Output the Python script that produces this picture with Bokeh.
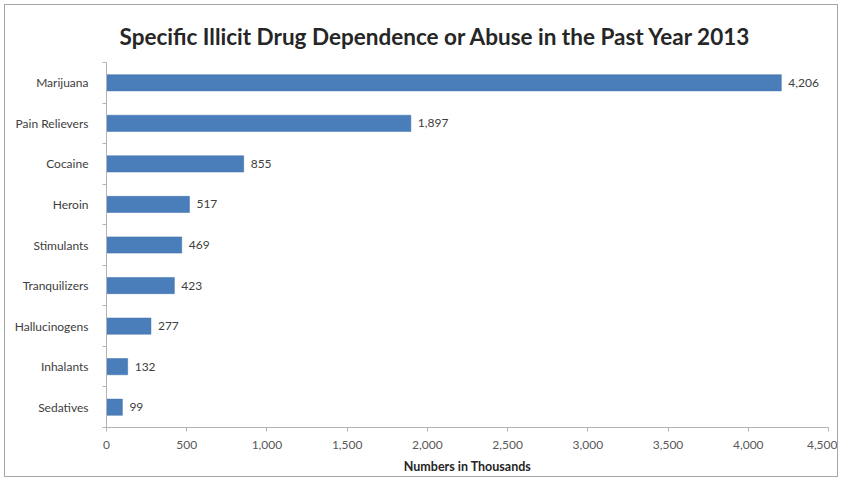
from bokeh.plotting import figure
from bokeh.models import Range1d, FixedTicker, ColumnDataSource, LabelSet, Title, NumeralTickFormatter
from bokeh.core.properties import value
from bokeh.embed import file_html
from bokeh.resources import INLINE

title_text = "Specific Illicit Drug Dependence or Abuse in the Past Year 2013"
categories = ["Marijuana", "Pain Relievers", "Cocaine", "Heroin", "Stimulants",
              "Tranquilizers", "Hallucinogens", "Inhalants", "Sedatives"]
values = [4206, 1897, 855, 517, 469, 423, 277, 132, 99]
x_ticks = [0, 500, 1000, 1500, 2000, 2500, 3000, 3500, 4000, 4500]

n = len(categories)
ypos = [n - 1 - i + 0.5 for i in range(n)]
labels = ["{:,}".format(v) for v in values]

src = ColumnDataSource(dict(y=ypos, v=values, lab=labels, cat=categories))

FONT = "Lato"

p = figure(width=834, height=473, output_backend="svg", toolbar_location=None,
           x_range=Range1d(0, 4500), y_range=Range1d(0, n),
           min_border_left=101, min_border_right=11, min_border_top=57, min_border_bottom=51,
           background_fill_color="white", border_fill_color="white")
p.styles = {"border": "1px solid #a6a6a6", "margin-left": "4px", "margin-top": "4px"}
p.outline_line_color = None
p.grid.visible = False

p.title = Title(text=title_text,
                align="left", text_font=FONT, text_font_size="22.5px", text_font_style="bold",
                text_color="#262626", offset=13, standoff=26)

p.hbar(y="y", right="v", left=0, height=0.4, source=src, fill_color="#4a7ebb",
       line_color="#3f6fa8", line_width=0.5)

p.add_layout(LabelSet(x="v", y="y", text="lab", source=src, x_offset=7, y_offset=0,
                      text_baseline="middle", text_font=value(FONT), text_font_size=value("12px"),
                      text_color="#404040"))

xa = p.xaxis[0]
xa.ticker = FixedTicker(ticks=x_ticks)
xa.formatter = NumeralTickFormatter(format="0,0")
xa.axis_line_color = "#b3b3b3"
xa.major_tick_line_color = "#b3b3b3"
xa.major_tick_out = 4
xa.major_tick_in = 0
xa.minor_tick_line_color = None
xa.major_label_text_font = FONT
xa.major_label_text_font_size = "12px"
xa.major_label_text_color = "#595959"
xa.major_label_standoff = 9
xa.axis_label = "Numbers in Thousands"
xa.axis_label_text_font = FONT
xa.axis_label_text_font_size = "12.5px"
xa.axis_label_text_font_style = "bold"
xa.axis_label_text_color = "#262626"
xa.axis_label_standoff = 7

ya = p.yaxis[0]
ya.ticker = FixedTicker(ticks=ypos, minor_ticks=list(range(n + 1)))
ya.major_label_overrides = {y: c for y, c in zip(ypos, categories)}
ya.axis_line_color = "#b3b3b3"
ya.major_tick_line_color = None
ya.minor_tick_line_color = "#b3b3b3"
ya.minor_tick_out = 4
ya.minor_tick_in = 0
ya.major_label_text_font = FONT
ya.major_label_text_font_size = "12px"
ya.major_label_text_color = "#404040"
ya.major_label_standoff = 12

open("out.html", "w").write(file_html(p, INLINE))
